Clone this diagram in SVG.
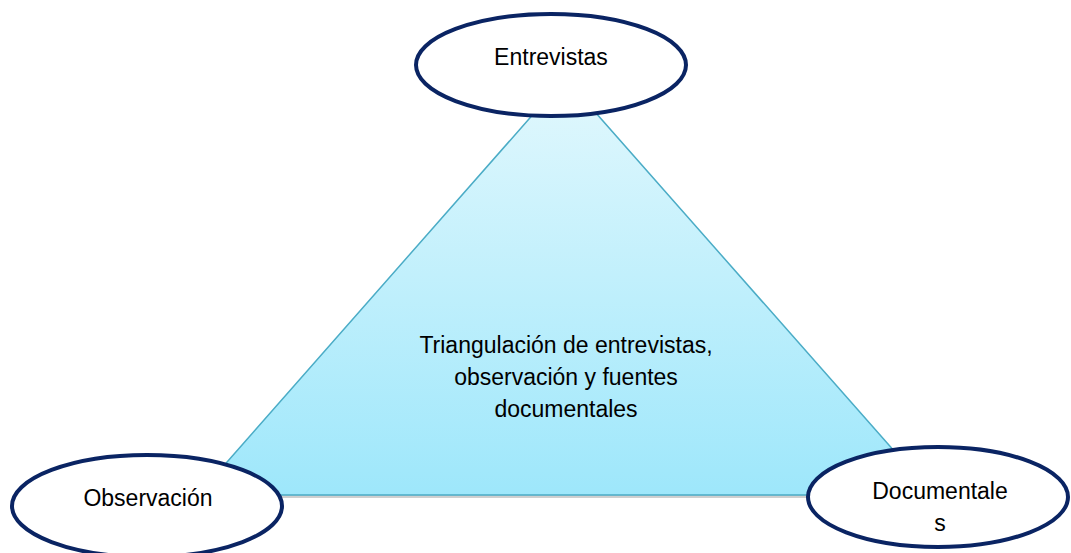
<svg xmlns="http://www.w3.org/2000/svg" width="1071" height="553" viewBox="0 0 1071 553">
<style>
.t{font-family:"Liberation Sans",Arial,sans-serif;font-size:23px;fill:#000;text-anchor:middle}
.e{fill:#fff;stroke:#0a2463;stroke-width:4}
</style>
<defs>
<linearGradient id="g" x1="0" y1="0" x2="0" y2="1">
<stop offset="0" stop-color="#e2f8fd"/>
<stop offset="1" stop-color="#9ee7fb"/>
</linearGradient>
</defs>
<rect width="1071" height="553" fill="#fff"/>
<g id="triangle">
<polygon points="200,498 935,498 565,81" fill="#bbbbbb" opacity="0.7"/>
<polygon points="198,495 933,495 565,78" fill="url(#g)" stroke="#4bacc6" stroke-width="1.5"/>
<text class="t" x="566" y="353">Triangulación de entrevistas,</text>
<text class="t" x="566" y="385">observación y fuentes</text>
<text class="t" x="566" y="417">documentales</text>
</g>
<g id="entrevistas">
<ellipse class="e" cx="551" cy="65" rx="135" ry="51"/>
<text class="t" x="551" y="65">Entrevistas</text>
</g>
<g id="observacion">
<ellipse class="e" cx="147" cy="506" rx="135" ry="51"/>
<text class="t" x="148" y="506">Observación</text>
</g>
<g id="documentales">
<ellipse class="e" cx="938" cy="497" rx="130" ry="50"/>
<text class="t" x="940" y="499">Documentale</text>
<text class="t" x="940" y="531">s</text>
</g>
</svg>
